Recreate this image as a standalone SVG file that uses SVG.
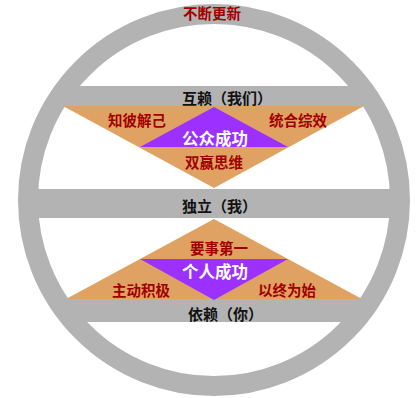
<svg xmlns="http://www.w3.org/2000/svg" width="418" height="398" viewBox="0 0 418 398">
<style>
.g{fill:#b3b3b3}
.o{fill:#e0a262}
.p{fill:#9b30ff}
text{font-family:"Noto Sans CJK SC","Noto Sans CJK JP",sans-serif;font-weight:bold}
.r{fill:#a00000;font-size:14.5px}
.b{fill:#111;font-size:15px}
.w{fill:#fff;font-size:16.5px}
</style>
<defs>
<clipPath id="c"><circle cx="214" cy="200" r="190"/></clipPath>
</defs>
<rect width="418" height="398" fill="#fff"/>
<g id="bars" clip-path="url(#c)">
<rect class="g" x="0" y="86" width="418" height="20"/>
<rect class="g" x="0" y="189" width="418" height="29"/>
<rect class="g" x="0" y="299" width="418" height="23"/>
</g>
<g id="top-triangle">
<polygon class="o" points="63,106 364,106 214,188"/>
<polygon class="p" points="214,107 140,147 288,147"/>
</g>
<g id="bottom-triangle">
<polygon class="o" points="214,219 66,299 362,299"/>
<polygon class="p" points="140,259 288,259 214,300"/>
</g>
<g id="ring">
<circle cx="214" cy="200" r="186" fill="none" stroke="#b3b3b3" stroke-width="20"/>
</g>
<g id="labels">
<text class="r" x="183" y="19">不断更新</text>
<text class="b" x="182" y="104">互赖（我们）</text>
<text class="r" x="108" y="126">知彼解己</text>
<text class="r" x="269" y="126">统合综效</text>
<text class="w" x="182" y="145">公众成功</text>
<text class="r" x="185" y="168">双赢思维</text>
<text class="b" x="182" y="212">独立（我）</text>
<text class="r" x="190" y="254">要事第一</text>
<text class="w" x="182" y="278">个人成功</text>
<text class="r" x="112" y="296">主动积极</text>
<text class="r" x="258" y="296">以终为始</text>
<text class="b" x="188" y="320">依赖（你）</text>
</g>
</svg>
